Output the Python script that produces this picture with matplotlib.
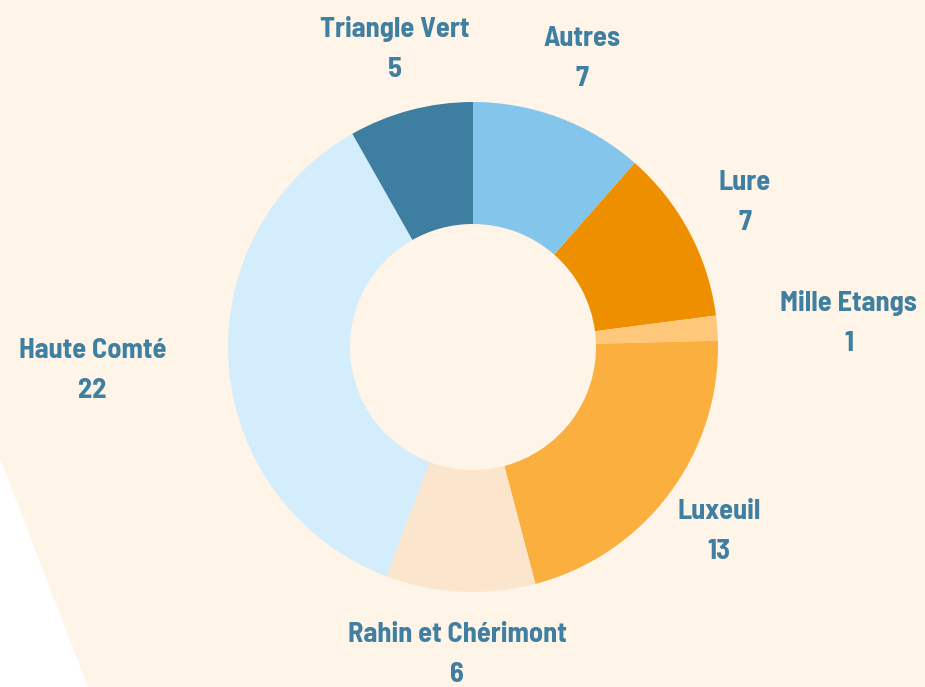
import numpy as np
import matplotlib.pyplot as plt
from matplotlib.patches import Polygon

labels = ['Autres', 'Lure', 'Mille Etangs', 'Luxeuil', 'Rahin et Chérimont', 'Haute Comté', 'Triangle Vert']
values = [7, 7, 1, 13, 6, 22, 5]
colors = ['#83C5EB', '#EE8F00', '#FFC77A', '#FAAF3E', '#FBE5CD', '#D3EDFC', '#3D7EA1']

bg = '#FEF5E8'
txt = '#3F7FA1'
cx, cy = 473, 340
R = 245
hole = 123

fig = plt.figure(figsize=(9.25, 6.87), dpi=100)
fig.patch.set_facecolor('white')
ax = fig.add_axes([0, 0, 1, 1])

ax.add_patch(Polygon([(0, 687), (925, 687), (925, 0), (88, 0), (0, 229)],
                     closed=True, facecolor=bg, edgecolor='none', zorder=0))

ax.pie(values, colors=colors, startangle=90, counterclock=False,
       radius=R, center=(cx, cy),
       wedgeprops=dict(width=R - hole, linewidth=0))

total = sum(values)
cum = 0
for lab, v in zip(labels, values):
    mid = np.radians(90 - (cum + v / 2) / total * 360)
    cum += v
    x = cx + 308 * np.cos(mid)
    y = cy + 308 * np.sin(mid)
    c = np.cos(mid)
    ha = 'center'
    if c > 0.95:
        ha = 'left'
    elif c < -0.95:
        ha = 'right'
    ax.text(x, y, f'{lab}\n{v}', ha=ha, va='center', multialignment='center',
            color=txt, fontsize=20.5, fontweight='bold', linespacing=1.75,
            family=['Barlow Semi Condensed', 'Roboto', 'DejaVu Sans'])

ax.set_xlim(0, 925)
ax.set_ylim(0, 687)
ax.set_aspect('auto')
ax.axis('off')

fig.savefig('out.png', dpi=100, facecolor='white')
